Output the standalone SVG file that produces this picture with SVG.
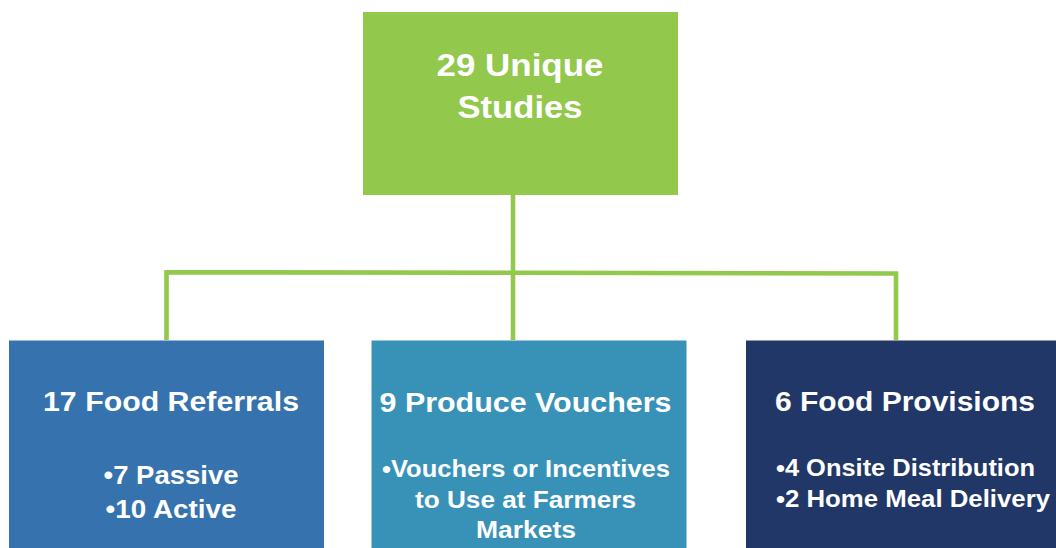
<svg xmlns="http://www.w3.org/2000/svg" width="1056" height="548" viewBox="0 0 1056 548">
  <style>
    text { font-family: "Liberation Sans", Arial, sans-serif; font-weight: bold; fill: #ffffff; }
    .top { font-size: 32px; }
    .title { font-size: 27px; }
    .item { font-size: 24px; }
    .mid { text-anchor: middle; }
    .conn { fill: none; stroke: #92c84c; stroke-width: 4.6; stroke-linejoin: miter; }
  </style>
  <rect width="1056" height="548" fill="#ffffff"/>
  <g id="connectors">
    <path class="conn" d="M513,194 V340"/>
    <path class="conn" d="M166.5,340 V272.2 L896,273.5 V340"/>
  </g>
  <g id="node-total">
    <rect x="363" y="12" width="315" height="183" fill="#92c84c"/>
    <text class="top mid" x="520" y="76" textLength="167" lengthAdjust="spacingAndGlyphs">29 Unique</text>
    <text class="top mid" x="520" y="118" textLength="125" lengthAdjust="spacingAndGlyphs">Studies</text>
  </g>
  <g id="node-referrals">
    <rect x="9" y="340.5" width="315" height="208" fill="#3572ae"/>
    <text class="title mid" x="171" y="411" textLength="256" lengthAdjust="spacingAndGlyphs">17 Food Referrals</text>
    <text class="item mid" x="171" y="484" textLength="135" lengthAdjust="spacingAndGlyphs" style="font-size:25px">•7 Passive</text>
    <text class="item mid" x="171" y="518" textLength="131" lengthAdjust="spacingAndGlyphs" style="font-size:25px">•10 Active</text>
  </g>
  <g id="node-vouchers">
    <rect x="371.5" y="340.5" width="315" height="208" fill="#3892b8"/>
    <text class="title mid" x="525.5" y="412" textLength="292" lengthAdjust="spacingAndGlyphs">9 Produce Vouchers</text>
    <text class="item mid" x="526" y="477" textLength="288" lengthAdjust="spacingAndGlyphs">•Vouchers or Incentives</text>
    <text class="item mid" x="525.5" y="507.7" textLength="221" lengthAdjust="spacingAndGlyphs">to Use at Farmers</text>
    <text class="item mid" x="526" y="538.3" textLength="100" lengthAdjust="spacingAndGlyphs">Markets</text>
  </g>
  <g id="node-provisions">
    <rect x="746" y="340.5" width="310" height="208" fill="#213767"/>
    <text class="title" x="775" y="411" textLength="260" lengthAdjust="spacingAndGlyphs">6 Food Provisions</text>
    <text class="item" x="776" y="476" textLength="259" lengthAdjust="spacingAndGlyphs">•4 Onsite Distribution</text>
    <text class="item" x="776" y="507" textLength="274" lengthAdjust="spacingAndGlyphs">•2 Home Meal Delivery</text>
  </g>
</svg>
